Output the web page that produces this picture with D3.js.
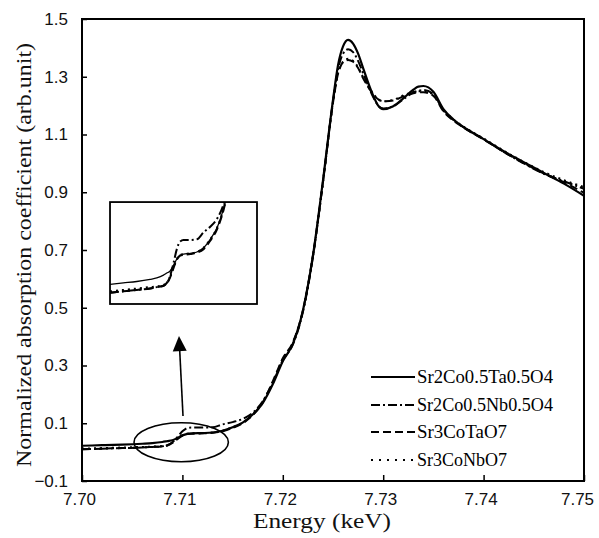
<!DOCTYPE html>
<html>
<head>
<meta charset="utf-8">
<script src="https://cdn.jsdelivr.net/npm/d3@7"></script>
<style>
  html, body { margin: 0; padding: 0; background: #fff; }
  svg { display: block; }
</style>
</head>
<body>
<svg id="chart" width="599" height="538"></svg>
<script>
// Co K-edge XANES spectra, normalized absorption vs photon energy (keV)
const energy = [7.700, 7.702, 7.704, 7.706, 7.707, 7.708, 7.7085, 7.709, 7.7095, 7.710,
  7.7105, 7.711, 7.712, 7.713, 7.714, 7.715, 7.716, 7.717, 7.718, 7.719,
  7.720, 7.721, 7.722, 7.723, 7.724, 7.725, 7.7255, 7.726, 7.7265, 7.727,
  7.7275, 7.728, 7.729, 7.7295, 7.730, 7.731, 7.732, 7.733, 7.7335, 7.734,
  7.735, 7.736, 7.737, 7.738, 7.740, 7.742, 7.744, 7.746, 7.748, 7.750];

const sr2CoTa = [0.022, 0.024, 0.026, 0.029, 0.031, 0.035, 0.038, 0.041, 0.049, 0.058,
  0.063, 0.065, 0.066, 0.068, 0.074, 0.086, 0.102, 0.130, 0.170, 0.235,
  0.315, 0.375, 0.490, 0.680, 0.940, 1.220, 1.340, 1.405, 1.428, 1.415,
  1.380, 1.330, 1.235, 1.200, 1.188, 1.198, 1.225, 1.255, 1.266, 1.268,
  1.248, 1.188, 1.152, 1.126, 1.084, 1.042, 1.004, 0.967, 0.930, 0.888];

const sr2CoNb = [0.010, 0.012, 0.014, 0.016, 0.018, 0.020, 0.024, 0.034, 0.052, 0.072,
  0.083, 0.085, 0.085, 0.086, 0.096, 0.104, 0.115, 0.136, 0.176, 0.240,
  0.318, 0.372, 0.485, 0.675, 0.935, 1.215, 1.325, 1.380, 1.395, 1.385,
  1.355, 1.312, 1.230, 1.200, 1.190, 1.197, 1.222, 1.245, 1.252, 1.254,
  1.240, 1.183, 1.150, 1.125, 1.085, 1.040, 1.000, 0.964, 0.938, 0.912];

const sr3CoTa = [0.010, 0.012, 0.014, 0.016, 0.018, 0.020, 0.023, 0.032, 0.045, 0.057,
  0.063, 0.064, 0.065, 0.067, 0.072, 0.084, 0.100, 0.128, 0.172, 0.245,
  0.325, 0.380, 0.490, 0.680, 0.935, 1.210, 1.310, 1.350, 1.358, 1.352,
  1.330, 1.295, 1.240, 1.222, 1.215, 1.218, 1.232, 1.243, 1.246, 1.246,
  1.234, 1.180, 1.148, 1.124, 1.083, 1.040, 1.000, 0.965, 0.935, 0.898];

const sr3CoNb = [0.012, 0.014, 0.016, 0.018, 0.019, 0.021, 0.024, 0.033, 0.046, 0.058,
  0.064, 0.065, 0.066, 0.068, 0.074, 0.086, 0.102, 0.130, 0.174, 0.242,
  0.322, 0.378, 0.488, 0.678, 0.935, 1.210, 1.312, 1.352, 1.362, 1.355,
  1.333, 1.298, 1.242, 1.222, 1.215, 1.220, 1.235, 1.247, 1.250, 1.250,
  1.238, 1.185, 1.152, 1.127, 1.086, 1.044, 1.005, 0.970, 0.942, 0.918];

const seriesNames = ["Sr2Co0.5Ta0.5O4", "Sr2Co0.5Nb0.5O4", "Sr3CoTaO7", "Sr3CoNbO7"];
const seriesValues = [sr2CoTa, sr2CoNb, sr3CoTa, sr3CoNb];
const seriesDash = [null, "9,3,2,3", "8,4", "2,4"];

const xTicks = [7.70, 7.71, 7.72, 7.73, 7.74, 7.75];
const yTicks = [-0.1, 0.1, 0.3, 0.5, 0.7, 0.9, 1.1, 1.3, 1.5];

// Pre-edge region magnified in the inset (energy / absorption windows)
const insetEnergy = [7.700, 7.722];
const insetAbs = [-0.006, 0.139];

const svg = d3.select("#chart");
const plotL = 82, plotR = 584, plotT = 19, plotB = 481;

const x = d3.scaleLinear().domain([7.70, 7.75]).range([plotL, plotR]);
const y = d3.scaleLinear().domain([-0.1, 1.5]).range([plotB, plotT]);

const tickFont = "'Liberation Sans', Arial, sans-serif";
const serif = "'Liberation Serif', 'Times New Roman', serif";

// axes with inward ticks
const xAxis = d3.axisBottom(x).tickValues(xTicks).tickSizeInner(-6).tickSizeOuter(0)
  .tickPadding(12).tickFormat(d3.format(".2f"));
const yAxis = d3.axisLeft(y).tickValues(yTicks).tickSizeInner(-5).tickSizeOuter(0)
  .tickPadding(14).tickFormat(d => d3.format(".1f")(d).replace("-", "\u2212"));

const gx = svg.append("g").attr("transform", `translate(0,${plotB})`).call(xAxis);
const gy = svg.append("g").attr("transform", `translate(${plotL},0)`).call(yAxis);
[gx, gy].forEach(g => {
  g.select(".domain").remove();
  g.selectAll(".tick line").attr("stroke", "#000").attr("stroke-width", 1.5);
  g.selectAll(".tick text").attr("fill", "#111").style("font-family", tickFont)
    .style("font-size", "17px");
});
// energy labels sit a little left of their ticks; the last one stays inside the page
gx.selectAll(".tick text").attr("dx", (d, i, n) => i === n.length - 1 ? -7 : -3);

// frame
svg.append("rect").attr("x", plotL).attr("y", plotT)
  .attr("width", plotR - plotL).attr("height", plotB - plotT)
  .attr("fill", "none").attr("stroke", "#000").attr("stroke-width", 2);

// spectra
const line = d3.line().x((d, i) => x(energy[i])).y(d => y(d)).curve(d3.curveMonotoneX);
const curves = svg.append("g");
seriesValues.forEach((vals, k) => {
  curves.append("path").datum(vals).attr("d", line)
    .attr("fill", "none").attr("stroke", "#000")
    .attr("stroke-width", k === 0 ? 2.2 : 2)
    .attr("stroke-dasharray", seriesDash[k]);
});

// highlighted pre-edge region and arrow to the magnified view
const ring = { e: 7.70988, v: 0.0344, re: 0.0047, rv: 0.0675 };
svg.append("ellipse")
  .attr("cx", x(ring.e)).attr("cy", y(ring.v))
  .attr("rx", x(ring.e + ring.re) - x(ring.e)).attr("ry", y(ring.v) - y(ring.v + ring.rv))
  .attr("fill", "none").attr("stroke", "#000").attr("stroke-width", 1.6);

const arrowFrom = [7.71006, 0.125], arrowTo = [7.70966, 0.402];
const ax0 = x(arrowFrom[0]), ay0 = y(arrowFrom[1]), ax1 = x(arrowTo[0]), ay1 = y(arrowTo[1]);
const ang = Math.atan2(ay1 - ay0, ax1 - ax0);
const headLen = 15, headHalf = 7;
const bx = ax1 - headLen * Math.cos(ang), by = ay1 - headLen * Math.sin(ang);
svg.append("line").attr("x1", ax0).attr("y1", ay0).attr("x2", bx).attr("y2", by)
  .attr("stroke", "#000").attr("stroke-width", 1.6);
svg.append("path")
  .attr("d", `M${ax1},${ay1}L${bx - headHalf * Math.sin(ang)},${by + headHalf * Math.cos(ang)}` +
             `L${bx + headHalf * Math.sin(ang)},${by - headHalf * Math.cos(ang)}Z`)
  .attr("fill", "#000");

// inset: magnified pre-edge
const insetBox = { e0: 7.70279, e1: 7.71743, v0: 0.513, v1: 0.866 };
const ix0 = x(insetBox.e0), ix1 = x(insetBox.e1), iy0 = y(insetBox.v1), iy1 = y(insetBox.v0);
const xi = d3.scaleLinear().domain(insetEnergy).range([ix0, ix1]);
const yi = d3.scaleLinear().domain(insetAbs).range([iy1, iy0]);
svg.append("clipPath").attr("id", "inset-clip").append("rect")
  .attr("x", ix0).attr("y", iy0).attr("width", ix1 - ix0).attr("height", iy1 - iy0);
const insetLine = d3.line().x((d, i) => xi(energy[i])).y(d => yi(d)).curve(d3.curveMonotoneX);
const ig = svg.append("g").attr("clip-path", "url(#inset-clip)");
seriesValues.forEach((vals, k) => {
  ig.append("path").datum(vals).attr("d", insetLine)
    .attr("fill", "none").attr("stroke", "#000")
    .attr("stroke-width", k === 0 ? 1.3 : 2)
    .attr("stroke-dasharray", seriesDash[k]);
});
svg.append("rect").attr("x", ix0).attr("y", iy0)
  .attr("width", ix1 - ix0).attr("height", iy1 - iy0)
  .attr("fill", "none").attr("stroke", "#000").attr("stroke-width", 1.8);

// legend
const legend = svg.append("g");
const legendRows = [377, 405, 432, 460];
seriesNames.forEach((name, k) => {
  legend.append("line").attr("x1", 371).attr("x2", 415)
    .attr("y1", legendRows[k]).attr("y2", legendRows[k])
    .attr("stroke", "#000").attr("stroke-width", 1.8)
    .attr("stroke-dasharray", k === 3 ? "2,6" : seriesDash[k]);
  legend.append("text").attr("x", 417).attr("y", legendRows[k] + 6)
    .attr("textLength", name.length > 10 ? 136 : 90).attr("lengthAdjust", "spacingAndGlyphs")
    .style("font-family", serif).style("font-size", "18px").attr("fill", "#000")
    .text(name);
});

// axis titles
svg.append("text").attr("x", 322).attr("y", 528).attr("text-anchor", "middle")
  .attr("textLength", 138).attr("lengthAdjust", "spacingAndGlyphs")
  .style("font-family", serif).style("font-size", "21px").attr("fill", "#111")
  .text("Energy (keV)");
svg.append("text").attr("transform", "translate(31,255) rotate(-90)")
  .attr("text-anchor", "middle")
  .attr("textLength", 424).attr("lengthAdjust", "spacingAndGlyphs")
  .style("font-family", serif).style("font-size", "22px").attr("fill", "#111")
  .text("Normalized absorption coefficient (arb.unit)");
</script>
</body>
</html>
